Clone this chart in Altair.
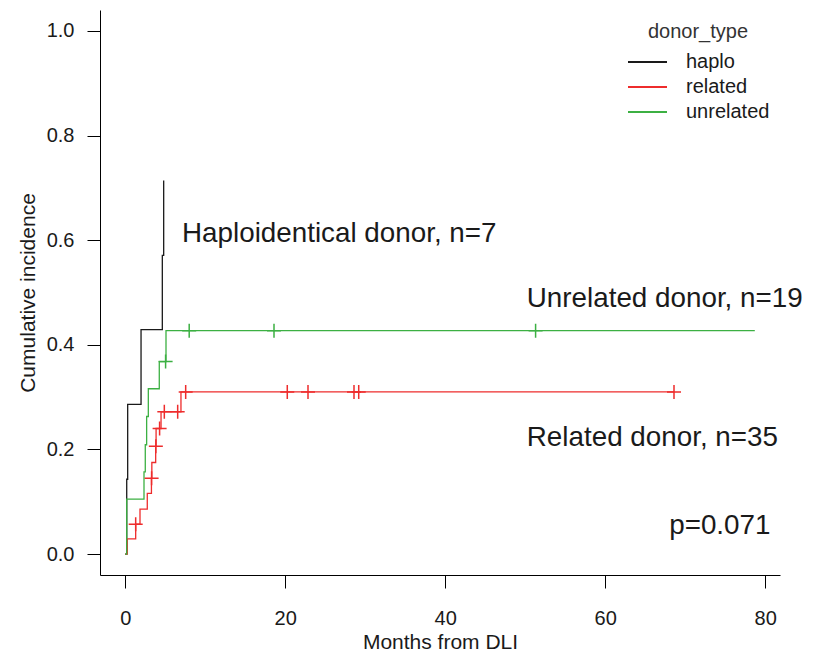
import altair as alt
import pandas as pd

FONT = "Liberation Sans"

groups = ["haplo", "related", "unrelated"]
colors = ["#1a1a1a", "#ee2c2c", "#3cb043"]

# step curves (time in months, cumulative incidence)
haplo_t = [0, 0.19, 0.31, 1.98, 4.64, 4.81]
haplo_v = [0, 0.143, 0.286, 0.429, 0.571, 0.714]

related_t = [0, 0.26, 1.31, 1.85, 2.76, 3.28, 3.33, 3.81, 3.86, 4.48, 6.97, 68.6]
related_v = [0, 0.029, 0.057, 0.086, 0.116, 0.145, 0.175, 0.206, 0.240, 0.272, 0.310, 0.310]

unrelated_t = [0, 0.19, 2.35, 2.51, 2.68, 2.89, 4.26, 5.10, 78.7]
unrelated_v = [0, 0.105, 0.157, 0.209, 0.263, 0.316, 0.368, 0.427, 0.427]

# censoring marks
related_cens_t = [1.31, 3.30, 3.83, 4.30, 4.89, 6.56, 7.56, 20.26, 22.85, 28.6, 29.19, 68.6]
related_cens_v = [0.057, 0.145, 0.206, 0.240, 0.272, 0.272, 0.310, 0.310, 0.310, 0.310, 0.310, 0.310]
unrelated_cens_t = [5.05, 8.0, 18.6, 51.3]
unrelated_cens_v = [0.368, 0.427, 0.427, 0.427]

# annotations
ann_text = ["Haploidentical donor, n=7", "Unrelated donor, n=19", "Related donor, n=35", "p=0.071"]
ann_t = [7.1, 50.2, 50.2, 68.0]
ann_v = [0.596, 0.472, 0.2075, 0.039]

x_ticks = [0, 20, 40, 60, 80]
y_ticks = [0.0, 0.2, 0.4, 0.6, 0.8, 1.0]

rows = []
for g, ts, vs in [("haplo", haplo_t, haplo_v), ("related", related_t, related_v),
                  ("unrelated", unrelated_t, unrelated_v)]:
    for i, (t, v) in enumerate(zip(ts, vs)):
        rows.append({"group": g, "t": t, "v": v, "ord": i})
lines_df = pd.DataFrame(rows)

cens_rows = []
for g, ts, vs in [("related", related_cens_t, related_cens_v),
                  ("unrelated", unrelated_cens_t, unrelated_cens_v)]:
    for t, v in zip(ts, vs):
        cens_rows.append({"group": g, "t": t, "v": v})
cens_df = pd.DataFrame(cens_rows)

ann_df = pd.DataFrame({"label": ann_text, "t": ann_t, "v": ann_v})

x_scale = alt.Scale(domain=[-3.15, 81.85], nice=False, zero=False)
y_scale = alt.Scale(domain=[-0.04, 1.04], nice=False, zero=False)

x_enc = alt.X("t:Q", scale=x_scale,
              axis=alt.Axis(values=x_ticks, title="Months from DLI", labelPadding=20,
                            titlePadding=3, format="d"))
y_enc = alt.Y("v:Q", scale=y_scale,
              axis=alt.Axis(values=y_ticks, format=".1f", title="Cumulative incidence",
                            labelPadding=13, titlePadding=8))

lines = alt.Chart(lines_df).mark_line(interpolate="step-after", strokeWidth=1.3).encode(
    x=x_enc,
    y=y_enc,
    color=alt.Color("group:N", scale=alt.Scale(domain=groups, range=colors),
                    legend=alt.Legend(title="donor_type", orient="none", legendX=527, legendY=12,
                                      symbolType="stroke", symbolSize=1521, symbolStrokeWidth=2,
                                      labelFontSize=20, titleFontSize=20, titleFontWeight="normal",
                                      titleAnchor="middle", labelOffset=18, rowPadding=5,
                                      clipHeight=20,
                                      titlePadding=10, padding=0, labelFont=FONT, titleFont=FONT,
                                      labelColor="#1a1a1a", titleColor="#333333")),
    order="ord:Q",
)

cross_layers = []
for g, c in zip(groups, colors):
    if g == "haplo":
        continue
    cross_layers.append(
        alt.Chart(cens_df).transform_filter(alt.datum.group == g)
        .mark_point(shape="M-1,0L1,0M0,-1L0,1", size=196, filled=False, strokeWidth=1.5,
                    color=c, opacity=1)
        .encode(x=alt.X("t:Q", scale=x_scale), y=alt.Y("v:Q", scale=y_scale))
    )

ann = alt.Chart(ann_df).mark_text(align="left", baseline="alphabetic", fontSize=27.8,
                                  font=FONT, color="#1a1a1a").encode(
    x=alt.X("t:Q", scale=x_scale), y=alt.Y("v:Q", scale=y_scale), text="label:N")

chart = alt.layer(lines, *cross_layers, ann).properties(
    width=680, height=565,
    autosize=alt.AutoSizeParams(type="none"),
    padding={"left": 92, "top": 2, "right": 29, "bottom": 78},
).configure_view(stroke=None).configure_axis(
    grid=False, domainColor="black", tickColor="black", domainWidth=1, tickWidth=1,
    tickSize=13, labelFont=FONT, titleFont=FONT, labelFontSize=20, titleFontSize=21,
    titleFontWeight="normal", labelColor="#1a1a1a", titleColor="#1a1a1a",
)

chart.save("out.html", embed_options={"renderer": "svg", "actions": False})
